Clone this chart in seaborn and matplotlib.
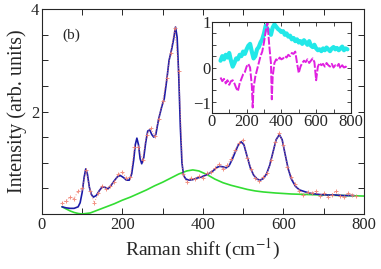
import numpy as np
import pandas as pd
import matplotlib
matplotlib.use("Agg")
import matplotlib.pyplot as plt
import seaborn as sns

data_x = [50, 60, 70, 80, 90, 100, 110, 120, 130, 140, 150, 160, 170, 180, 190, 200,
          210, 220, 230, 240, 250, 260, 270, 280, 290, 300, 310, 320, 330, 340, 350,
          360, 370, 380, 390, 400, 410, 420, 430, 440, 450, 460, 470, 480, 490, 500,
          510, 520, 530, 540, 550, 560, 570, 580, 590, 600, 610, 620, 630, 640, 650,
          660, 670, 680, 690, 700, 710, 720, 730, 740, 750, 760, 770, 780]
data_y = [0.22, 0.26, 0.33, 0.30, 0.45, 0.50, 0.85, 0.45, 0.22, 0.40, 0.55, 0.48,
          0.55, 0.62, 0.78, 0.82, 0.70, 0.72, 1.30, 1.30, 1.05, 1.55, 1.68, 1.52,
          1.85, 2.20, 2.65, 3.15, 3.62, 2.80, 0.78, 0.62, 0.70, 0.68, 0.74, 0.70,
          0.80, 0.82, 0.90, 0.98, 0.88, 0.95, 1.08, 1.25, 1.38, 1.45, 1.10, 0.88,
          0.70, 0.64, 0.72, 0.80, 1.05, 1.40, 1.58, 1.35, 0.92, 0.72, 0.58, 0.44,
          0.38, 0.42, 0.40, 0.44, 0.36, 0.40, 0.34, 0.38, 0.44, 0.36, 0.33, 0.40,
          0.38, 0.36]

# fitted curve
fit_x = [50, 60, 70, 80, 90, 95, 100, 105, 109, 113, 118, 123, 128, 135, 143, 150,
         157, 164, 172, 180, 188, 195, 203, 210, 217, 223, 228, 232, 236, 240, 244,
         248, 253, 258, 263, 268, 273, 278, 283, 290, 298, 304, 310, 316, 322, 327,
         332, 336, 340, 344, 348, 352, 358, 366, 375, 385, 395, 405, 415, 425, 435,
         442, 450, 458, 465, 472, 480, 488, 495, 502, 510, 518, 526, 535, 542, 550,
         558, 566, 574, 582, 590, 597, 604, 612, 620, 630, 640, 655, 670, 690, 710,
         730, 750, 775]
fit_y = [0.14, 0.12, 0.11, 0.11, 0.14, 0.22, 0.42, 0.72, 0.88, 0.78, 0.52, 0.38,
         0.33, 0.36, 0.46, 0.53, 0.52, 0.49, 0.56, 0.65, 0.73, 0.75, 0.71, 0.66,
         0.66, 0.78, 1.05, 1.35, 1.48, 1.35, 1.08, 0.98, 1.10, 1.40, 1.62, 1.64,
         1.55, 1.50, 1.55, 1.85, 2.10, 2.25, 2.60, 3.00, 3.20, 3.40, 3.65, 3.45,
         2.70, 1.70, 1.00, 0.75, 0.68, 0.66, 0.67, 0.70, 0.72, 0.75, 0.79, 0.84,
         0.91, 0.93, 0.92, 0.90, 0.94, 1.05, 1.20, 1.35, 1.41, 1.35, 1.12, 0.90,
         0.76, 0.68, 0.66, 0.69, 0.78, 0.95, 1.20, 1.45, 1.55, 1.45, 1.18, 0.88,
         0.68, 0.54, 0.47, 0.43, 0.40, 0.38, 0.37, 0.37, 0.36, 0.36]

# background component
bg_x = [50, 60, 70, 80, 90, 100, 120, 140, 160, 180, 200, 220, 240, 260, 280, 300,
        320, 340, 360, 375, 390, 410, 430, 450, 470, 490, 510, 530, 550, 580, 620,
        660, 700, 750, 800]
bg_y = [0.14, 0.10, 0.06, 0.03, 0.01, 0.00, 0.02, 0.08, 0.14, 0.20, 0.27, 0.33,
        0.40, 0.47, 0.55, 0.62, 0.70, 0.78, 0.84, 0.86, 0.84, 0.77, 0.68, 0.61,
        0.56, 0.52, 0.48, 0.45, 0.43, 0.41, 0.39, 0.38, 0.37, 0.36, 0.35]

# inset traces
ins_x = [50, 60, 70, 80, 90, 100, 110, 120, 130, 140, 150, 160, 170, 180, 190, 200,
         210, 220, 230, 240, 250, 260, 270, 280, 290, 300, 310, 320, 330, 340, 350,
         360, 370, 380, 390, 400, 410, 420, 430, 440, 450, 460, 470, 480, 490, 500,
         510, 520, 530, 540, 550, 560, 570, 580, 590, 600, 610, 620, 630, 640, 650,
         660, 670, 680, 690, 700, 710, 720, 730, 740, 750, 760, 770, 780]
cyan_y = [0.15, 0.25, 0.18, 0.28, 0.22, 0.32, 0.15, 0.02, 0.10, 0.20, 0.18, 0.28,
          0.25, 0.35, 0.30, 0.40, 0.48, 0.52, 0.35, 0.20, 0.25, 0.40, 0.45, 0.55,
          0.62, 0.75, 0.92, 0.85, 0.80, 0.72, 0.88, 0.95, 0.90, 0.85, 0.82, 0.78,
          0.80, 0.72, 0.75, 0.68, 0.70, 0.62, 0.65, 0.58, 0.62, 0.55, 0.58, 0.52,
          0.60, 0.55, 0.50, 0.58, 0.48, 0.45, 0.50, 0.42, 0.38, 0.40, 0.36, 0.42,
          0.38, 0.44, 0.40, 0.36, 0.42, 0.45, 0.40, 0.43, 0.38, 0.42, 0.46, 0.38,
          0.42, 0.40]
mag_x = [50, 60, 70, 80, 90, 100, 110, 120, 130, 140, 150, 160, 170, 180, 190, 200,
         210, 220, 230, 235, 240, 250, 260, 270, 280, 290, 300, 310, 320, 330, 340,
         345, 350, 360, 370, 380, 390, 400, 410, 420, 430, 440, 450, 460, 470, 480,
         490, 500, 510, 520, 530, 540, 550, 560, 570, 580, 590, 600, 610, 620, 630,
         640, 650, 660, 670, 680, 690, 700, 710, 720, 730, 740, 750, 760, 770, 780]
mag_y = [-0.22, -0.30, -0.25, -0.35, -0.28, -0.38, -0.30, -0.28, -0.35, -0.45,
         -0.52, -0.35, -0.25, -0.15, -0.10, 0.02, 0.08, 0.00, -0.40, -0.88, -0.45,
         -0.20, -0.05, 0.10, 0.25, 0.35, 0.55, 0.80, 1.00, 0.50, 0.10, -0.70,
         -0.20, 0.10, 0.18, 0.15, 0.22, 0.18, 0.20, 0.25, 0.22, 0.28, 0.25, 0.32,
         0.30, 0.35, 0.10, -0.12, 0.02, 0.10, 0.15, 0.12, 0.18, 0.10, 0.15, 0.20,
         0.12, -0.28, 0.02, 0.10, 0.05, 0.08, 0.02, 0.10, 0.05, 0.02, 0.08, 0.00,
         0.05, 0.02, 0.08, -0.02, 0.05, 0.00, 0.02, -0.02]

sns.set_style("ticks")
plt.rcParams['font.family'] = ['Liberation Serif', 'DejaVu Serif']
plt.rcParams['mathtext.fontset'] = 'stix'
plt.rcParams['xtick.direction'] = 'in'
plt.rcParams['ytick.direction'] = 'in'

fig = plt.figure(figsize=(3.81, 2.69), dpi=100)
ax = fig.add_axes([0.110, 0.2045, 0.845, 0.762])

sns.lineplot(x=bg_x, y=bg_y, ax=ax, color='#33dd33', lw=1.2, sort=False, estimator=None)
sns.lineplot(x=fit_x, y=fit_y, ax=ax, color='#1c1ca8', lw=1.2, sort=False, estimator=None)
# noisy data: dotted trace with small crosses
sns.lineplot(x=data_x, y=data_y, ax=ax, color='#f07868', lw=0.7, ls=':',
             alpha=0.8, sort=False, estimator=None)
sns.scatterplot(x=data_x, y=data_y, ax=ax, color='#f08070', marker='+', s=12,
                linewidth=0.7, alpha=0.85, zorder=4)

ax.set_xlim(0, 800)
ax.set_ylim(0, 4)
ax.set_xticks(np.arange(0, 801, 100))
ax.set_xticklabels([str(v) if v % 200 == 0 else '' for v in range(0, 801, 100)])
ax.set_yticks(np.arange(0, 4.01, 0.5))
ax.set_yticklabels(['', '', '', '', '2', '', '', '', '4'])
ax.tick_params(top=True, right=True, length=4, width=0.7, labelsize=12, pad=2)
for s in ax.spines.values():
    s.set_linewidth(0.8)
ax.set_xlabel('Raman shift (cm$^{-1}$)', fontsize=14, labelpad=3)
ax.set_ylabel('Intensity (arb. units)', fontsize=14.5, labelpad=3)
ax.text(0.065, 0.87, '(b)', transform=ax.transAxes, fontsize=11, va='center')

ins = fig.add_axes([0.556, 0.580, 0.365, 0.338])
sns.lineplot(x=ins_x, y=cyan_y, ax=ins, color='#22e8e8', lw=3.0, sort=False, estimator=None)
sns.lineplot(x=mag_x, y=mag_y, ax=ins, color='#e020e0', lw=1.4, ls=(0, (4, 1)),
             sort=False, estimator=None)
ins.set_xlim(0, 800)
ins.set_ylim(-1, 1)
ins.set_xticks(np.arange(0, 801, 100))
ins.set_xticklabels([str(v) if v % 200 == 0 else '' for v in range(0, 801, 100)])
ins.set_yticks(np.arange(-1, 1.01, 0.25))
ins.set_yticklabels(['\u22121', '', '', '', '0', '', '', '', '1'])
ins.tick_params(top=True, right=True, length=3, width=0.6, labelsize=12, pad=1)
ins.tick_params(axis='x', pad=1)
ins.get_yticklabels()[0].set_verticalalignment('bottom')
for s in ins.spines.values():
    s.set_linewidth(0.8)

fig.savefig('out.png', dpi=100)
